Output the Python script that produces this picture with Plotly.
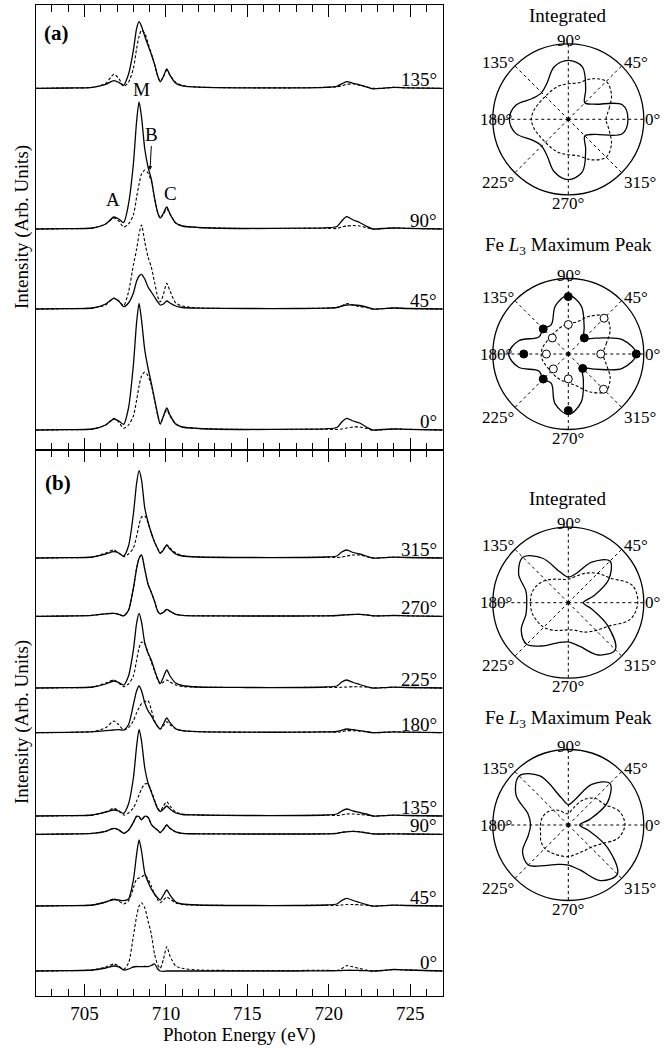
import plotly.graph_objects as go

# ---------------- DATA ----------------
# photon energy grid (eV)
X = [702, 704, 705.5, 706.3, 706.8, 707.1, 707.4, 707.7, 708.0, 708.2, 708.35, 708.5,
     708.7, 708.9, 709.1, 709.3, 709.5, 709.65, 709.85, 710.05, 710.25, 710.6, 711.0,
     712, 715, 718, 719.8, 720.5, 720.8, 721.1, 721.5, 721.9, 722.3, 722.7, 723.3,
     724.0, 724.8, 727]

# panel (a)
a_labels = ["135°", "90°", "45°", "0°"]
a_offsets = [361.7, 221, 141, 20]
a135_s = [0, 0.3, 1, 4, 7.7, 6, 3, 14, 38, 60, 66.6, 62, 52, 43, 34, 24, 12, 6.5, 12, 19.3, 13, 5, 2.5, 1.2, 0.5, 0.5, 1, 2, 4.5, 6.7, 5, 3.5, 1.5, -0.5, 0, 1, 0.5, 0]
a135_d = [0, 0.3, 1, 5, 14, 10, 2, 6, 20, 40, 52, 58, 55, 45, 35, 24, 12, 7, 12, 18, 13, 6, 3, 1.2, 0.5, 0.5, 1, 1.5, 2.5, 4, 4.5, 3, 1.5, 0, 0, 1, 0.5, 0]
a90_s = [0, 0.3, 1, 5, 12, 10, 6.5, 25, 65, 108, 127, 112, 80, 62, 50, 31, 16, 11, 16, 22, 15, 6, 3, 1.5, 0.5, 0.8, 1.2, 2.5, 8, 12.3, 9, 6.5, 3, 0, 0.5, 1, 0.7, 0]
a90_d = [0, 0.3, 1, 5, 11, 8, 2, 5, 14, 32, 45, 55, 59, 56, 48, 31, 16, 11, 15, 20, 15, 6, 3, 1.5, 0.5, 0.5, 0.8, 0.5, 2, 3, 3.5, 3, 1.5, 0, 0.3, 1, 0.7, 0]
a45_s = [0, 0.3, 1, 5, 10.7, 8, 2.3, 6, 16, 28, 33, 34.7, 30, 22, 17, 12, 7, 4, 5, 8, 6, 3, 1.5, 0.8, 0.5, 0.5, 0.8, 1.5, 3, 4, 4, 3.5, 2, 0, 0.3, 1, 0.5, 0]
a45_d = [0, 0.3, 1, 4, 11, 8, 3.3, 17, 44, 60, 75, 84, 67, 52, 42, 27, 12, 7, 15, 25.7, 18, 6, 3, 1, 0.5, 0.5, 0.8, 1.5, 3, 5.5, 4, 2.5, 1.5, 0, 0.3, 1, 0.5, 0]
a0_s = [0, 0.3, 1, 5, 11, 9, 5.7, 22, 65, 108, 126.7, 110, 80, 62, 47, 31, 15, 6, 14, 22, 15, 6, 3, 1.5, 0.5, 0.8, 1.2, 2.5, 8, 11.7, 9, 7, 3, 0, 0.5, 1, 0.7, 0]
a0_d = [0, 0.3, 1, 5, 11.7, 8, 1.7, 5, 14, 30, 44, 54, 58, 54, 45, 30, 14, 6, 14, 20, 14, 6, 3, 1.5, 0.5, 0.5, 0.8, 0.5, 1, 2, 3, 3, 1.5, 0, 0.3, 1, 0.7, 0]

# panel (b)
b_labels = ["315°", "270°", "225°", "180°", "135°", "90°", "45°", "0°"]
b_offsets = [438, 379.7, 308, 263.3, 180, 161.7, 90, 25]
b315_s = [0, 0.3, 1, 4, 6.3, 5, 2, 12, 44, 75, 87.3, 78, 50, 36, 25, 16, 9, 4.7, 8, 13, 9, 4, 2, 1, 0.5, 0.5, 1, 2, 6, 8, 5.5, 4, 2, 0, 0.3, 0.8, 0.5, 0]
b315_d = [0, 0.3, 1, 5, 8, 5, 1.3, 4, 10, 22, 33, 41, 42, 35, 25, 16, 9, 5, 9, 13, 10, 5, 2.5, 1, 0.5, 0.5, 0.8, 0.5, 1, 2, 3, 3, 1.5, 0, 0.3, 0.8, 0.5, 0]
b270_s = [0, 0.3, 1, 2.5, 3, 2, 0.5, 6, 28, 48, 58, 61.3, 47, 32, 24, 15, 5, 2.5, 4, 7, 5, 2, 1, 0.5, 0.3, 0.3, 0.5, 0.8, 1.2, 1.5, 1.8, 2, 1.5, 0.5, 0.5, 0.8, 0.5, 0]
b270_d = [0, 0.3, 1, 2.5, 3, 2, 0.5, 6, 28, 48, 58, 61.3, 47, 32, 24, 15, 5, 2.5, 4, 7, 5, 2, 1, 0.5, 0.3, 0.3, 0.5, 0.8, 1.2, 1.5, 1.8, 2, 1.5, 0.5, 0.5, 0.8, 0.5, 0]
b225_s = [0, 0.3, 1, 4, 7, 5.5, 3, 12, 38, 65, 74.7, 66, 45, 35, 28, 18, 9, 4.7, 11, 18, 12, 5, 2.5, 1, 0.5, 0.5, 1, 2, 6, 8, 5.5, 3.5, 1.5, 0, 0.3, 0.8, 0.5, 0]
b225_d = [0, 0.3, 1, 5, 8, 5, 1.3, 4, 12, 28, 40, 46, 44, 35, 26, 17, 8, 4, 6, 8, 6, 3, 1.5, 0.8, 0.5, 0.5, 0.8, 0.5, 0.8, 1, 1.2, 1.2, 1, 0.3, 0.3, 0.8, 0.5, 0]
b180_s = [0, 0.3, 1, 2, 2.7, 3, 2.7, 8, 28, 42, 46.7, 42, 30, 22, 17, 11, 6, 3.7, 9, 14.7, 10, 4, 2, 1, 0.5, 0.5, 0.8, 1.2, 2.5, 3.7, 3, 2, 1, 0, 0.3, 0.8, 0.5, 0]
b180_d = [0, 0.3, 1, 5, 11.7, 8, 2.7, 5, 12, 20, 25, 29, 31, 32, 23, 12, 6, 3.7, 7, 11, 8, 4, 2, 1, 0.5, 0.5, 0.8, 0.5, 1, 2, 2, 1.5, 1, 0, 0.3, 0.8, 0.5, 0]
b135_s = [0, 0.3, 1, 4, 6, 5, 2.7, 12, 38, 70, 86.7, 75, 48, 33, 24, 15, 7, 4.3, 7, 10, 7, 3, 1.5, 1, 0.5, 0.5, 1, 2, 5, 7, 5, 3.5, 2, 0, 0.3, 0.8, 0.5, 0]
b135_d = [0, 0.3, 1, 4, 7.7, 5, 1, 3, 8, 15, 21, 27, 32, 32, 25, 16, 8, 5, 10, 14.3, 10, 4, 2, 1, 0.5, 0.5, 0.8, 0.5, 1, 2, 2, 1.5, 1, 0, 0.3, 0.8, 0.5, 0]
b90_s = [0, 0.3, 1, 3, 6, 4.5, 1, 4, 12, 18, 17.5, 14.5, 18, 17, 10, 6.5, 4, 1.7, 5, 9.3, 6, 2.5, 1, 0.5, 0.3, 0.3, 0.5, 1, 2, 2.5, 3, 2.5, 1.5, 0.5, 0.3, 0.5, 0.3, 0]
b90_d = [0, 0.3, 1, 3, 6, 4.5, 1, 4, 12, 18, 17.5, 14.5, 18, 17, 10, 6.5, 4, 1.7, 5, 9.3, 6, 2.5, 1, 0.5, 0.3, 0.3, 0.5, 1, 2, 2.5, 3, 2.5, 1.5, 0.5, 0.3, 0.5, 0.3, 0]
b45_s = [0, 0.3, 1, 4, 6.5, 6, 5.3, 7, 26, 52, 66, 55, 33, 24, 17, 12, 8, 6, 11, 16, 11, 4, 2, 1, 0.5, 0.5, 1, 2, 5.5, 7.7, 5.5, 3.5, 1.5, 0, 0.3, 0.8, 0.5, 0]
b45_d = [0, 0.3, 1, 4, 7, 5, 2, 5, 18, 27, 28, 29, 31, 27, 20, 12, 6, 3.3, 6, 9, 7, 3, 1.5, 0.8, 0.5, 0.5, 0.8, 0.5, 1, 1.5, 1.5, 1.2, 0.8, 0, 0.3, 0.8, 0.5, 0]
b0_s = [0, 0.3, 1, 3, 5, 4, 1, 2, 4, 4.5, 4.3, 4.3, 4.5, 4.5, 5.5, 7, 2, 0, -0.3, 0, 0, 0, 0, 0, 0, 0, 0.2, 0.3, 0.5, 0.7, 0.7, 0.5, 0.3, 0, 0.5, 1.5, 1, 0]
b0_d = [0, 0.3, 1, 4, 7, 5, 1.7, 8, 35, 55, 65, 68.3, 63, 50, 37, 17, 6, 2.7, 12, 24.3, 15, 5, 2.7, 1, 0.5, 0.5, 0.8, 0.5, 2.5, 5.3, 4, 2.5, 1, 0, 0.5, 1.5, 1, 0]

a_solid = [a135_s, a90_s, a45_s, a0_s]
a_dash = [a135_d, a90_d, a45_d, a0_d]
b_solid = [b315_s, b270_s, b225_s, b180_s, b135_s, b90_s, b45_s, b0_s]
b_dash = [b315_d, b270_d, b225_d, b180_d, b135_d, b90_d, b45_d, b0_d]

# polar data (normalised radius)
THETA = [0, 15, 30, 45, 60, 75, 90, 105, 120, 135, 150, 165, 180, 195, 210, 225, 240, 255, 270, 285, 300, 315, 330, 345]
int_a_s = [0.79, 0.74, 0.40, 0.31, 0.46, 0.72, 0.78, 0.72, 0.56, 0.50, 0.55, 0.72, 0.78, 0.72, 0.55, 0.50, 0.56, 0.72, 0.80, 0.72, 0.46, 0.31, 0.40, 0.74]
int_a_d = [0.50, 0.56, 0.66, 0.71, 0.62, 0.50, 0.47, 0.46, 0.44, 0.43, 0.44, 0.47, 0.49, 0.47, 0.44, 0.43, 0.44, 0.46, 0.47, 0.50, 0.62, 0.71, 0.66, 0.56]
max_a_s = [0.90, 0.74, 0.42, 0.30, 0.42, 0.66, 0.78, 0.66, 0.45, 0.47, 0.45, 0.68, 0.79, 0.68, 0.45, 0.47, 0.45, 0.68, 0.80, 0.66, 0.40, 0.27, 0.40, 0.74]
max_a_d = [0.46, 0.52, 0.64, 0.70, 0.58, 0.44, 0.40, 0.37, 0.34, 0.33, 0.33, 0.35, 0.36, 0.35, 0.33, 0.33, 0.34, 0.36, 0.38, 0.44, 0.58, 0.70, 0.64, 0.52]
PT_THETA = [0, 45, 90, 135, 180, 225, 270, 315]
max_a_pts_filled = [0.90, 0.30, 0.76, 0.47, 0.59, 0.47, 0.75, 0.27]
max_a_pts_open = [0.43, 0.67, 0.39, 0.30, 0.29, 0.28, 0.33, 0.66]
int_b_s = [0.20, 0.35, 0.62, 0.78, 0.62, 0.40, 0.34, 0.42, 0.68, 0.85, 0.76, 0.58, 0.55, 0.58, 0.72, 0.78, 0.66, 0.55, 0.52, 0.60, 0.80, 0.88, 0.60, 0.32]
int_b_d = [0.92, 0.88, 0.65, 0.55, 0.45, 0.36, 0.31, 0.32, 0.36, 0.42, 0.47, 0.50, 0.50, 0.50, 0.48, 0.46, 0.42, 0.38, 0.36, 0.38, 0.45, 0.52, 0.62, 0.85]
max_b_s = [0.15, 0.30, 0.60, 0.78, 0.62, 0.35, 0.27, 0.38, 0.75, 0.92, 0.80, 0.55, 0.50, 0.55, 0.70, 0.75, 0.62, 0.54, 0.53, 0.62, 0.85, 0.92, 0.60, 0.28]
max_b_d = [0.75, 0.70, 0.55, 0.50, 0.38, 0.22, 0.15, 0.16, 0.22, 0.28, 0.33, 0.36, 0.37, 0.38, 0.42, 0.44, 0.43, 0.42, 0.42, 0.40, 0.40, 0.42, 0.50, 0.68]

ANG_TICKS = [0, 45, 90, 135, 180, 225, 270, 315]
ANG_TEXT = ["0°", "45°", "90°", "135°", "180°", "225°", "270°", "315°"]

# ---------------- FIGURE ----------------
SERIF = "Liberation Serif"
W, H = 672, 1049
fig = go.Figure()

def add_spectra(solids, dashes, offsets, xa, ya):
    for s, d, off in zip(solids, dashes, offsets):
        fig.add_trace(go.Scatter(x=X, y=[off + v for v in d], mode="lines",
                                 line=dict(color="black", width=1.1, dash="3px,2px", shape="spline", smoothing=0.7),
                                 xaxis=xa, yaxis=ya, showlegend=False, hoverinfo="skip"))
        fig.add_trace(go.Scatter(x=X, y=[off + v for v in s], mode="lines",
                                 line=dict(color="black", width=1.3, shape="spline", smoothing=0.7),
                                 xaxis=xa, yaxis=ya, showlegend=False, hoverinfo="skip"))

add_spectra(a_solid, a_dash, a_offsets, "x", "y")
add_spectra(b_solid, b_dash, b_offsets, "x2", "y2")

def close(v):
    return list(v) + [v[0]]

polars = [("polar", int_a_s, int_a_d), ("polar2", max_a_s, max_a_d),
          ("polar3", int_b_s, int_b_d), ("polar4", max_b_s, max_b_d)]
for sp, rs, rd in polars:
    fig.add_trace(go.Scatterpolar(r=close(rd), theta=close(THETA), mode="lines", subplot=sp,
                                  line=dict(color="black", width=1.1, dash="3px,2px", shape="spline", smoothing=1),
                                  showlegend=False, hoverinfo="skip"))
    fig.add_trace(go.Scatterpolar(r=close(rs), theta=close(THETA), mode="lines", subplot=sp,
                                  line=dict(color="black", width=1.3, shape="spline", smoothing=1),
                                  showlegend=False, hoverinfo="skip"))
    fig.add_trace(go.Scatterpolar(r=[0], theta=[0], mode="markers", subplot=sp,
                                  marker=dict(color="black", size=4), showlegend=False, hoverinfo="skip"))

fig.add_trace(go.Scatterpolar(r=max_a_pts_filled, theta=PT_THETA, mode="markers", subplot="polar2",
                              marker=dict(color="black", size=8, line=dict(color="black", width=1)),
                              showlegend=False, hoverinfo="skip"))
fig.add_trace(go.Scatterpolar(r=max_a_pts_open, theta=PT_THETA, mode="markers", subplot="polar2",
                              marker=dict(color="white", size=8, line=dict(color="black", width=1)),
                              showlegend=False, hoverinfo="skip"))

XDOM = [35.7 / W, 442.7 / W]
common_x = dict(domain=XDOM, range=[702, 727], showgrid=False, zeroline=False,
                showline=True, linecolor="black", linewidth=1.2, mirror="ticks",
                ticks="inside", ticklen=12, tickwidth=1, tickcolor="black",
                tick0=705, dtick=5,
                minor=dict(dtick=1, tick0=702, ticks="inside", ticklen=6.5, tickwidth=1, tickcolor="black"),
                tickfont=dict(family=SERIF, size=19, color="black"))
common_y = dict(showgrid=False, zeroline=False, showline=True, linecolor="black", linewidth=1.2,
                mirror=True, ticks="", showticklabels=False)

PCX = 568.3
PR = 75.5
PCY = [119.3, 354, 602.7, 825]

def pdom(cy):
    return dict(x=[(PCX - PR) / W, (PCX + PR) / W], y=[1 - (cy + PR) / H, 1 - (cy - PR) / H])

def polar_layout(cy):
    return dict(domain=pdom(cy), bgcolor="white",
                radialaxis=dict(visible=False, range=[0, 1]),
                angularaxis=dict(rotation=0, direction="counterclockwise", tickmode="array",
                                 tickvals=ANG_TICKS, ticks="", showticklabels=False,
                                 showgrid=True, gridcolor="black", griddash="dot", gridwidth=0.8,
                                 showline=True, linecolor="black", linewidth=1.3))

fig.update_layout(
    width=W, height=H, margin=dict(l=0, r=0, t=0, b=0),
    paper_bgcolor="white", plot_bgcolor="white",
    font=dict(family=SERIF, size=19, color="black"),
    xaxis=dict(common_x, anchor="y", showticklabels=False),
    yaxis=dict(common_y, domain=[1 - 450 / H, 1 - 5 / H], range=[0, 445], anchor="x"),
    xaxis2=dict(common_x, anchor="y2", showticklabels=True),
    yaxis2=dict(common_y, domain=[1 - 996 / H, 1 - 450 / H], range=[0, 546], anchor="x2"),
    polar=polar_layout(PCY[0]), polar2=polar_layout(PCY[1]),
    polar3=polar_layout(PCY[2]), polar4=polar_layout(PCY[3]),
)

def A(**kw):
    d = dict(showarrow=False, xanchor="center", yanchor="middle", font=dict(size=19))
    d.update(kw)
    return d

ann = []
for lab, off in zip(a_labels, a_offsets):
    ann.append(A(x=726.8, y=off, xref="x", yref="y", text=lab,
                 xanchor="right", yanchor="bottom", yshift=-4))
for lab, off in zip(b_labels, b_offsets):
    ann.append(A(x=726.8, y=off, xref="x2", yref="y2", text=lab,
                 xanchor="right", yanchor="bottom", yshift=-4))
ann += [
    A(x=703.3, y=417, xref="x", yref="y", text="<b>(a)</b>", font=dict(size=21)),
    A(x=703.35, y=513, xref="x2", yref="y2", text="<b>(b)</b>", font=dict(size=21)),
    A(x=708.49, y=361, xref="x", yref="y", text="M"),
    A(x=706.76, y=251, xref="x", yref="y", text="A"),
    A(x=710.27, y=257, xref="x", yref="y", text="C"),
    A(x=709.02, y=280, xref="x", yref="y", text="B", showarrow=True, ax=2, ay=-36,
      arrowhead=2, arrowsize=0.8, arrowwidth=1, arrowcolor="black", standoff=0),
    A(x=22 / W, y=1 - 227 / H, xref="paper", yref="paper", text="Intensity (Arb. Units)", textangle=-90),
    A(x=22 / W, y=1 - 722 / H, xref="paper", yref="paper", text="Intensity (Arb. Units)", textangle=-90),
    A(x=239.2 / W, y=1 - 1035 / H, xref="paper", yref="paper", text="Photon Energy (eV)"),
    A(x=PCX / W, y=1 - 15 / H, xref="paper", yref="paper", text="Integrated"),
    A(x=PCX / W, y=1 - 246 / H, xref="paper", yref="paper", text="Fe <i>L</i><sub>3</sub> Maximum Peak"),
    A(x=PCX / W, y=1 - 498 / H, xref="paper", yref="paper", text="Integrated"),
    A(x=PCX / W, y=1 - 719 / H, xref="paper", yref="paper", text="Fe <i>L</i><sub>3</sub> Maximum Peak"),
]
# angular labels placed around each polar circle (pixel offsets from centre)
LAB_DX = [84, 68, 1, -70, -72, -70, 0, 72]
LAB_DY = [0, -57, -79, -57, 0, 63, 84, 63]
for cy in PCY:
    for t, dx, dy in zip(ANG_TEXT, LAB_DX, LAB_DY):
        ann.append(A(x=(PCX + dx) / W, y=1 - (cy + dy) / H, xref="paper", yref="paper",
                     text=t, font=dict(size=17)))
fig.update_layout(annotations=ann)

fig.write_html("out.html", config={"displayModeBar": False},
               post_script="document.body.style.margin='0';")
